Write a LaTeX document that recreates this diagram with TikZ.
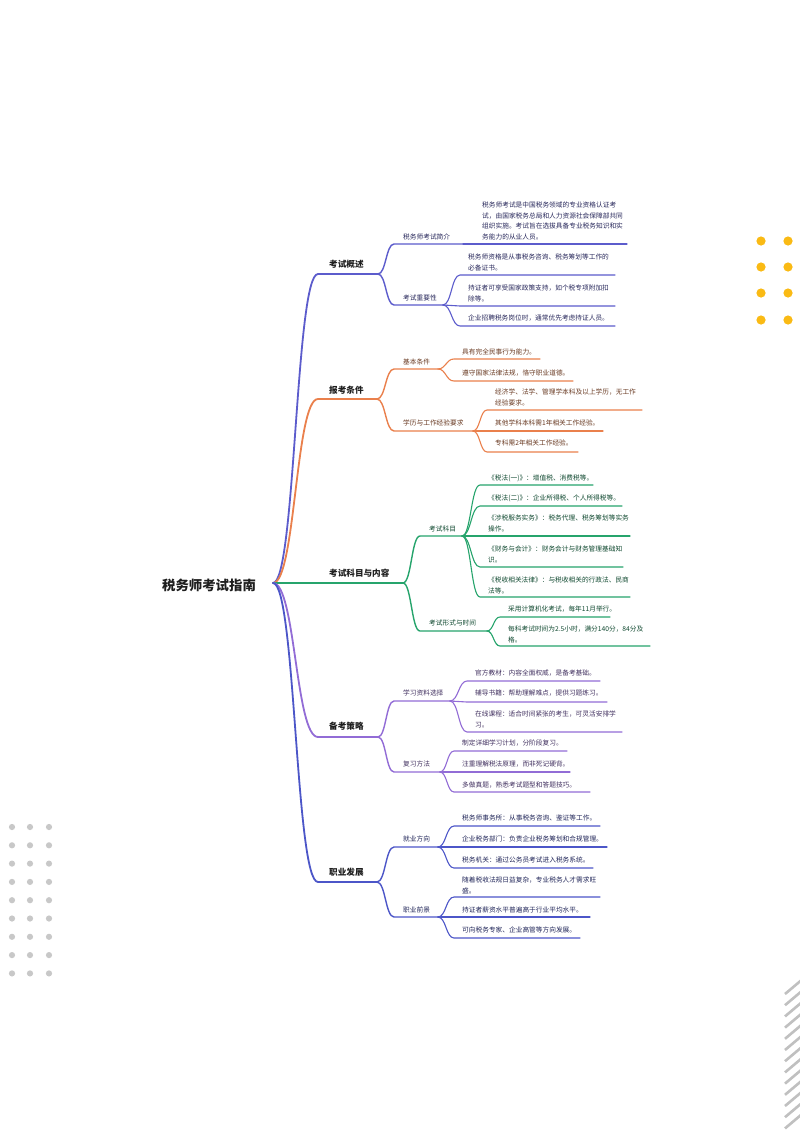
\documentclass[tikz,border=0pt]{standalone}
\usepackage{fontspec}
\setmainfont{Noto Sans CJK SC}
\usetikzlibrary{calc}
\definecolor{cA}{RGB}{92,92,204}
\definecolor{cB}{RGB}{234,128,76}
\definecolor{cC}{RGB}{38,164,108}
\definecolor{cD}{RGB}{146,108,214}
\definecolor{cE}{RGB}{76,86,200}
\definecolor{ink}{RGB}{30,30,30}
\definecolor{dotY}{RGB}{250,186,20}
\definecolor{dotG}{RGB}{200,200,200}
\definecolor{stripeG}{RGB}{192,192,192}
\newcommand\mmlink[4]{\draw[#1] let \p1=(#2), \p2=(#3) in (#2) .. controls ({(\x1+\x2)/2},\y1) and ({(\x1+\x2)/2},\y2) .. (#3) -- (#4);}
\newcommand\mm[9]{%
  \coordinate (#1S) at (#3,#5);
  \coordinate (#1E) at (#4,#5);
  \mmlink{#7}{#2E}{#1S}{#1E}
  \node[#8] (#1) at ({#3+\mmpad},{#6-\mmoff}) {#9};
}
\tikzset{
  lwa/.style={line width=1.8pt,line cap=round},
  lwb/.style={line width=1.4pt,line cap=round},
  lwc/.style={line width=1.1pt,line cap=round},
  rootst/.style={font=\fontsize{13.4}{15}\selectfont\bfseries,text=ink,inner sep=0},
  lone/.style={font=\fontsize{8.6}{10}\selectfont\bfseries,text=ink,anchor=north west,inner sep=0},
  ltwo/.style={font=\fontsize{6.7}{10.7}\selectfont,anchor=north west,inner sep=0,align=left},
  tA/.style={ltwo,text=cA!45!black},
  tB/.style={ltwo,text=cB!45!black},
  tC/.style={ltwo,text=cC!45!black},
  tD/.style={ltwo,text=cD!45!black},
  tE/.style={ltwo,text=cE!45!black},
}
\begin{document}
\begin{tikzpicture}[x=1pt,y=-1pt]
\useasboundingbox (0,0) rectangle (800,1132);
\fill[white] (0,0) rectangle (800,1132);
% decorations
\foreach \xx in {761,788}{\foreach \yy in {241,267,293,320}{\fill[dotY] (\xx,\yy) circle (4.6pt);}}
\foreach \xx in {12,30,49}{\foreach \k in {0,...,8}{\fill[dotG] (\xx,{827+18.3*\k}) circle (3.1pt);}}
\begin{scope}
\clip (0,0) rectangle (800,1132);
\foreach \k in {0,...,12}{\draw[stripeG,line width=2.6pt] (785,{994+11.2*\k}) -- (801,{980.5+11.2*\k});}
\end{scope}
% root
\node[rootst] (root) at (209,585) {税务师考试指南};
\coordinate (rootE) at (273,583);
% level 1
\def\mmpad{11}\def\mmoff{4.4}
\mm{A}{root}{318}{378}{274}{264}{cA,lwa}{lone}{考试概述}
\mm{B}{root}{318}{377}{399}{390}{cB,lwa}{lone}{报考条件}
\mm{C}{root}{318}{403}{583}{573}{cC,lwa}{lone}{考试科目与内容}
\mm{D}{root}{318}{378}{737}{726}{cD,lwa}{lone}{备考策略}
\mm{E}{root}{318}{377}{882}{872}{cE,lwa}{lone}{职业发展}
% level 2
\def\mmpad{9}\def\mmoff{3.4}
\mm{A1}{A}{394}{463}{244}{237}{cA,lwb}{tA}{税务师考试简介}
\mm{A2}{A}{394}{443}{305}{298}{cA,lwb}{tA}{考试重要性}
\mm{B1}{B}{394}{438}{369}{362}{cB,lwb}{tB}{基本条件}
\mm{B2}{B}{394}{473}{431}{423}{cB,lwb}{tB}{学历与工作经验要求}
\mm{C1}{C}{420}{462}{536}{529}{cC,lwb}{tC}{考试科目}
\mm{C2}{C}{420}{487}{631}{623}{cC,lwb}{tC}{考试形式与时间}
\mm{D1}{D}{394}{450}{701}{693}{cD,lwb}{tD}{学习资料选择}
\mm{D2}{D}{394}{440}{772}{764}{cD,lwb}{tD}{复习方法}
\mm{E1}{E}{394}{438}{847}{839}{cE,lwb}{tE}{就业方向}
\mm{E2}{E}{394}{438}{917}{910}{cE,lwb}{tE}{职业前景}
% leaves
\def\mmpad{8}
\mm{A1a}{A1}{474}{627}{244}{205}{cA,lwc}{tA}{税务师考试是中国税务领域的专业资格认证考\\试，由国家税务总局和人力资源社会保障部共同\\组织实施。考试旨在选拔具备专业税务知识和实\\务能力的从业人员。}
\mm{A2a}{A2}{460}{615}{275}{257}{cA,lwc}{tA}{税务师资格是从事税务咨询、税务筹划等工作的\\必备证书。}
\mm{A2b}{A2}{460}{615}{306}{288}{cA,lwc}{tA}{持证者可享受国家政策支持，如个税专项附加扣\\除等。}
\mm{A2c}{A2}{460}{615}{326}{318}{cA,lwc}{tA}{企业招聘税务岗位时，通常优先考虑持证人员。}
\mm{B1a}{B1}{454}{540}{359}{352}{cB,lwc}{tB}{具有完全民事行为能力。}
\mm{B1b}{B1}{454}{573}{381}{373}{cB,lwc}{tB}{遵守国家法律法规，恪守职业道德。}
\mm{B2a}{B2}{487}{642}{410}{392}{cB,lwc}{tB}{经济学、法学、管理学本科及以上学历，无工作\\经验要求。}
\mm{B2b}{B2}{487}{603}{431}{423}{cB,lwc}{tB}{其他学科本科需1年相关工作经验。}
\mm{B2c}{B2}{487}{578}{452}{443}{cB,lwc}{tB}{专科需2年相关工作经验。}
\mm{C1a}{C1}{480}{593}{485}{478}{cC,lwc}{tC}{《税法(一)》：增值税、消费税等。}
\mm{C1b}{C1}{480}{622}{506}{498}{cC,lwc}{tC}{《税法(二)》：企业所得税、个人所得税等。}
\mm{C1c}{C1}{480}{630}{536}{518}{cC,lwc}{tC}{《涉税服务实务》：税务代理、税务筹划等实务\\操作。}
\mm{C1d}{C1}{480}{623}{567}{549}{cC,lwc}{tC}{《财务与会计》：财务会计与财务管理基础知\\识。}
\mm{C1e}{C1}{480}{630}{597}{580}{cC,lwc}{tC}{《税收相关法律》：与税收相关的行政法、民商\\法等。}
\mm{C2a}{C2}{500}{610}{617}{609}{cC,lwc}{tC}{采用计算机化考试，每年11月举行。}
\mm{C2b}{C2}{500}{650}{646}{629}{cC,lwc}{tC}{每科考试时间为2.5小时，满分140分，84分及\\格。}
\mm{D1a}{D1}{467}{600}{681}{673}{cD,lwc}{tD}{官方教材：内容全面权威，是备考基础。}
\mm{D1b}{D1}{467}{607}{702}{693}{cD,lwc}{tD}{辅导书籍：帮助理解难点，提供习题练习。}
\mm{D1c}{D1}{467}{622}{732}{714}{cD,lwc}{tD}{在线课程：适合时间紧张的考生，可灵活安排学\\习。}
\mm{D2a}{D2}{454}{567}{751}{743}{cD,lwc}{tD}{制定详细学习计划，分阶段复习。}
\mm{D2b}{D2}{454}{570}{772}{764}{cD,lwc}{tD}{注重理解税法原理，而非死记硬背。}
\mm{D2c}{D2}{454}{590}{792}{785}{cD,lwc}{tD}{多做真题，熟悉考试题型和答题技巧。}
\mm{E1a}{E1}{454}{600}{826}{818}{cE,lwc}{tE}{税务师事务所：从事税务咨询、鉴证等工作。}
\mm{E1b}{E1}{454}{607}{847}{839}{cE,lwc}{tE}{企业税务部门：负责企业税务筹划和合规管理。}
\mm{E1c}{E1}{454}{593}{868}{860}{cE,lwc}{tE}{税务机关：通过公务员考试进入税务系统。}
\mm{E2a}{E2}{454}{600}{897}{880}{cE,lwc}{tE}{随着税收法规日益复杂，专业税务人才需求旺\\盛。}
\mm{E2b}{E2}{454}{590}{917}{910}{cE,lwc}{tE}{持证者薪资水平普遍高于行业平均水平。}
\mm{E2c}{E2}{454}{580}{938}{930}{cE,lwc}{tE}{可向税务专家、企业高管等方向发展。}
\end{tikzpicture}
\end{document}
